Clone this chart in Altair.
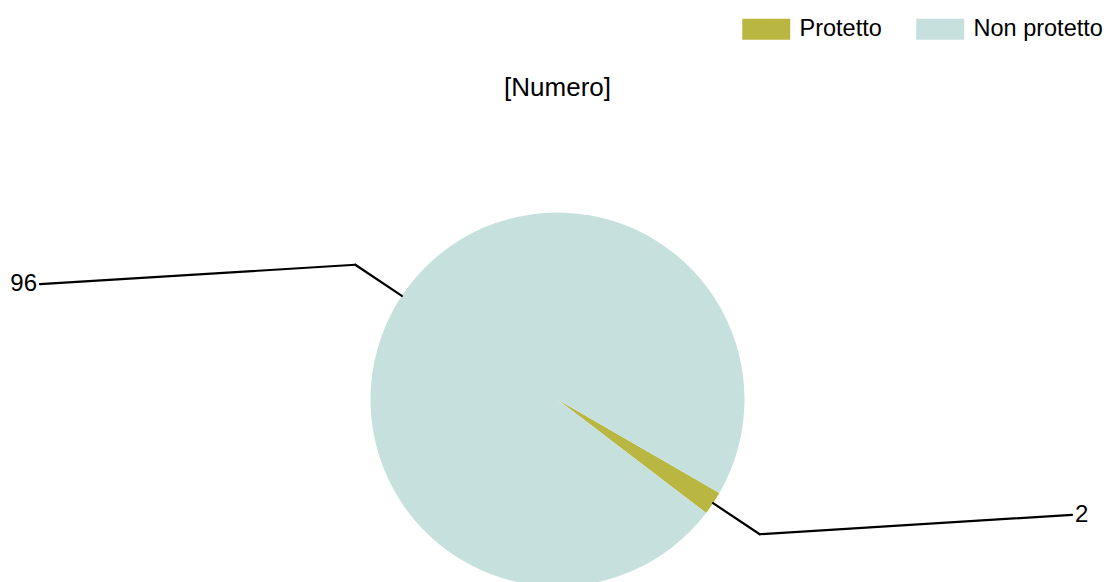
import math
import altair as alt
import pandas as pd

categories = ["Protetto", "Non protetto"]
values = [2, 96]
colors = ["#BAB642", "#C6E1DD"]
chart_title = "[Numero]"

df = pd.DataFrame({
    "categoria": categories,
    "valore": values,
    "ordine": list(range(len(categories))),
})

W, H = 1099, 574
CX, CY = 549.5, 391.5
R = 187
R2 = 243
START = 2 * math.pi / 3
XL, XR = 32, 1064
FONT = "Liberation Sans"

base = alt.Chart(df)

pie = base.mark_arc(radius=R, strokeWidth=0).encode(
    theta=alt.Theta("valore:Q", stack=True,
                    scale=alt.Scale(range=[START, START + 2 * math.pi])),
    color=alt.Color(
        "categoria:N",
        scale=alt.Scale(domain=categories, range=colors),
        legend=alt.Legend(
            title=None,
            orient="none",
            legendX=733,
            legendY=9,
            direction="horizontal",
            symbolType="M-1,-1H3.57V1H-1Z",
            symbolSize=441,
            symbolStrokeWidth=0,
            symbolOpacity=1,
            labelFont=FONT,
            labelFontSize=23.5,
            labelColor="#000000",
            labelOffset=35,
            columnPadding=33,
            padding=0,
        ),
    ),
    order=alt.Order("ordine:Q", sort="ascending"),
    x=alt.value(CX),
    y=alt.value(CY),
)

lines = base.transform_joinaggregate(
    total="sum(valore)"
).transform_window(
    cum="sum(valore)", sort=[alt.SortField("ordine", order="ascending")]
).transform_calculate(
    mid=f"{START} + 2*PI*(datum.cum - datum.valore/2)/datum.total"
).transform_calculate(
    x1=f"{CX} + {R}*sin(datum.mid)",
    y1=f"{CY} - {R}*cos(datum.mid)",
    x2=f"{CX} + {R2}*sin(datum.mid)",
    y2=f"{CY} - {R2}*cos(datum.mid)",
    x3=f"sin(datum.mid) > 0 ? {XR} : {XL}",
).transform_calculate(
    y3="datum.y2 + 35*cos(datum.mid)",
    right="sin(datum.mid) > 0",
)

seg1 = lines.mark_rule(color="black", strokeWidth=2.2, strokeCap="round").encode(
    x=alt.X("x1:Q", scale=None, axis=None),
    y=alt.Y("y1:Q", scale=None, axis=None),
    x2="x2:Q",
    y2="y2:Q",
)
seg2 = lines.mark_rule(color="black", strokeWidth=2.2, strokeCap="round").encode(
    x=alt.X("x2:Q", scale=None, axis=None),
    y=alt.Y("y2:Q", scale=None, axis=None),
    x2="x3:Q",
    y2="y3:Q",
)
lab_r = lines.transform_filter("datum.right").mark_text(
    align="left", baseline="middle", dx=3, font=FONT, fontSize=24, color="black"
).encode(
    x=alt.X("x3:Q", scale=None, axis=None),
    y=alt.Y("y3:Q", scale=None, axis=None),
    text="valore:Q",
)
lab_l = lines.transform_filter("!datum.right").mark_text(
    align="right", baseline="middle", dx=-3, font=FONT, fontSize=24, color="black"
).encode(
    x=alt.X("x3:Q", scale=None, axis=None),
    y=alt.Y("y3:Q", scale=None, axis=None),
    text="valore:Q",
)

chart = alt.layer(pie, seg1, seg2, lab_r, lab_l).properties(
    width=W,
    height=H,
    autosize=alt.AutoSizeParams(type="none"),
    padding=0,
    title=alt.TitleParams(
        chart_title, anchor="middle", font=FONT, fontSize=26, fontWeight="normal",
        color="black", baseline="middle", offset=0, dy=106,
    ),
).configure(background="white").configure_view(stroke="transparent", strokeWidth=0)

chart.save("out.html", embed_options={"renderer": "svg", "actions": False})
